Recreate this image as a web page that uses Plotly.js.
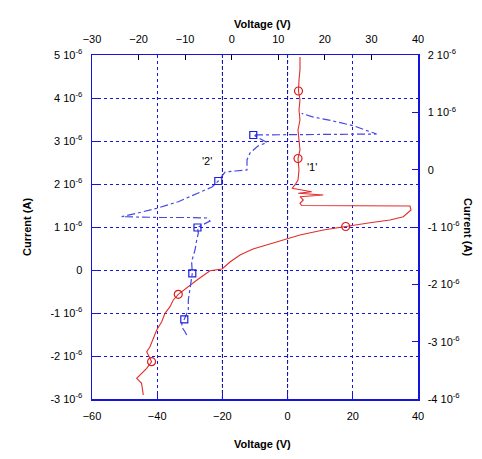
<!DOCTYPE html>
<html>
<head>
<meta charset="utf-8">
<script src="https://cdn.plot.ly/plotly-3.0.1.min.js"></script>
<style>html,body{margin:0;padding:0;background:#fff;}</style>
</head>
<body>
<div id="chart" style="width:482px;height:459px;"></div>
<script>
// Curve '1' (red) on bottom Voltage axis / left Current axis (current in 1e-6 A)
const curve1Voltage = [3.80,3.80,3.50,3.34,3.80,3.50,3.80,3.19,3.50,3.80,3.19,3.50,3.19,2.27,1.35,7.39,3.29,10.95,3.80,4.81,3.80,4.33,37.55,37.86,35.49,31.41,25.28,17.82,10.95,3.80,-0.18,-5.40,-10.61,-14.60,-17.67,-20.12,-23.80,-27.79,-31.47,-33.53,-35.06,-36.07,-37.61,-38.62,-40.15,-41.20,-42.21,-43.22,-41.72,-43.22,-46.29,-44.79,-44.26];
const curve1Current = [4.953,4.651,4.419,4.163,3.953,3.721,3.488,3.256,3.023,2.791,2.593,2.326,2.093,1.977,1.900,1.821,1.784,1.744,1.705,1.628,1.551,1.500,1.488,1.395,1.240,1.163,1.100,1.012,0.930,0.814,0.721,0.605,0.488,0.349,0.186,0.023,-0.016,-0.233,-0.442,-0.565,-0.698,-0.853,-1.007,-1.202,-1.395,-1.588,-1.784,-1.900,-2.133,-2.286,-2.519,-2.635,-2.907];
const curve1MarkVoltage = [3.34,3.19,17.82,-33.53,-41.72];
const curve1MarkCurrent = [4.163,2.593,1.012,-0.565,-2.133];

// Curve '2' (blue) on top Voltage axis / right Current axis (current in 1e-6 A)
const curve2Voltage = [-9.67,-10.03,-10.74,-10.68,-10.18,-9.82,-9.32,-9.32,-8.96,-8.74,-8.46,-8.61,-7.88,-7.52,-7.17,-7.35,-5.74,-4.66,-5.31,-8.96,-15.40,-20.77,-23.62,-20.40,-16.11,-11.47,-6.81,-4.23,-2.88,-1.44,0.71,3.28,3.28,3.93,5.64,7.58,4.63,14.66,31.13,28.62,26.11,21.47,17.17,15.03];
const curve2Current = [-2.884,-2.826,-2.744,-2.674,-2.610,-2.535,-2.448,-2.273,-2.069,-1.942,-1.808,-1.605,-1.401,-1.227,-1.110,-1.009,-0.948,-0.895,-0.843,-0.834,-0.834,-0.826,-0.820,-0.761,-0.674,-0.559,-0.395,-0.302,-0.198,-0.041,-0.023,-0.006,0.169,0.291,0.413,0.474,0.605,0.613,0.622,0.692,0.767,0.854,0.924,0.983];
const curve2MarkVoltage = [-10.18,-8.46,-7.35,-2.88,4.63];
const curve2MarkCurrent = [-2.610,-1.808,-1.009,-0.198,0.605];

// Tick labels
const bottomTicks = [-60,-40,-20,0,20,40];
const topTicks = [-30,-20,-10,0,10,20,30,40];
const leftTicks = [5,4,3,2,1,0,-1,-2,-3];
const leftTickText = ["5 10<sup>-6</sup>","4 10<sup>-6</sup>","3 10<sup>-6</sup>","2 10<sup>-6</sup>","1 10<sup>-6</sup>","0","-1 10<sup>-6</sup>","-2 10<sup>-6</sup>","-3 10<sup>-6</sup>"];
const rightTicks = [2,1,0,-1,-2,-3,-4];
const rightTickText = ["2 10<sup>-6</sup>","1 10<sup>-6</sup>","0","-1 10<sup>-6</sup>","-2 10<sup>-6</sup>","-3 10<sup>-6</sup>","-4 10<sup>-6</sup>"];
const blackGridVoltages = [-20, 0];

const BLUE = 'rgb(20,20,225)';
const FONT = 'Liberation Sans, Arial, sans-serif';

const traces = [
  {x: curve2Voltage, y: curve2Current, xaxis:'x2', yaxis:'y2', mode:'lines',
   line:{color:'rgb(70,70,230)', width:1.2, dash:'8px,3px,3px,3px'}, hoverinfo:'skip'},
  {x: curve2MarkVoltage, y: curve2MarkCurrent, xaxis:'x2', yaxis:'y2', mode:'markers',
   marker:{symbol:'square-open', size:7, color:'rgb(30,30,220)', line:{width:1.2}}},
  {x: curve1Voltage, y: curve1Current, mode:'lines',
   line:{color:'rgb(225,45,45)', width:1.1}},
  {x: curve1MarkVoltage, y: curve1MarkCurrent, mode:'markers',
   marker:{symbol:'circle-open', size:8, color:'rgb(215,30,30)', line:{width:1.2}}}
];

const shapes = blackGridVoltages.map(v => ({
  type:'line', xref:'x', yref:'paper', x0:v, x1:v, y0:0, y1:1,
  line:{color:'#000', width:1, dash:'dot'}, layer:'below'
}));

const layout = {
  width:482, height:459,
  margin:{l:92, r:64, t:55, b:60, pad:0},
  paper_bgcolor:'#fff', plot_bgcolor:'#fff',
  showlegend:false,
  font:{family:FONT, size:11, color:'#000'},
  xaxis:{range:[-60,40], tickvals:bottomTicks, ticks:'inside', ticklen:6, tickcolor:BLUE,
    showgrid:true, gridcolor:BLUE, griddash:'dot', gridwidth:1, zeroline:false,
    showline:true, linecolor:BLUE, linewidth:1.5, ticklabelstandoff:6, fixedrange:true},
  xaxis2:{range:[-30,40], tickvals:topTicks, overlaying:'x', side:'top', anchor:'y',
    ticks:'inside', ticklen:5, tickcolor:'#000', showgrid:false, zeroline:false,
    showline:true, linecolor:BLUE, linewidth:1.5, ticklabelstandoff:6},
  yaxis:{range:[-3,5], tickvals:leftTicks, ticktext:leftTickText, ticks:'inside', ticklen:6,
    tickcolor:BLUE, showgrid:true, gridcolor:BLUE, griddash:'dot', gridwidth:1, zeroline:false,
    showline:true, linecolor:BLUE, linewidth:1.5, ticklabelstandoff:6},
  yaxis2:{range:[-4,2], tickvals:rightTicks, ticktext:rightTickText, overlaying:'y', side:'right',
    anchor:'x', ticks:'inside', ticklen:6, tickcolor:BLUE, showgrid:false, zeroline:false,
    showline:true, linecolor:BLUE, linewidth:1.5, ticklabelstandoff:6},
  shapes: shapes,
  annotations:[
    {text:'<b>Voltage (V)</b>', xref:'paper', yref:'paper', x:(262-92)/326, y:1+(55-16)/344, showarrow:false, font:{size:11}},
    {text:'<b>Voltage (V)</b>', xref:'paper', yref:'paper', x:(262-92)/326, y:-(452-399)/344, showarrow:false, font:{size:11}},
    {text:'<b>Current (A)</b>', xref:'paper', yref:'paper', x:-(92-19)/326, y:(399-227)/344, showarrow:false, textangle:-90, font:{size:11}},
    {text:'<b>Current (A)</b>', xref:'paper', yref:'paper', x:1+(476-418)/326, y:(399-227)/344, showarrow:false, textangle:90, font:{size:11}},
    {text:"'2'", x:-24.72, y:2.535, xref:'x', yref:'y', showarrow:false, font:{size:11}},
    {text:"'1'", x:7.49, y:2.395, xref:'x', yref:'y', showarrow:false, font:{size:11}}
  ]
};

Plotly.newPlot('chart', traces, layout, {staticPlot:true, displayModeBar:false});
</script>
</body>
</html>
